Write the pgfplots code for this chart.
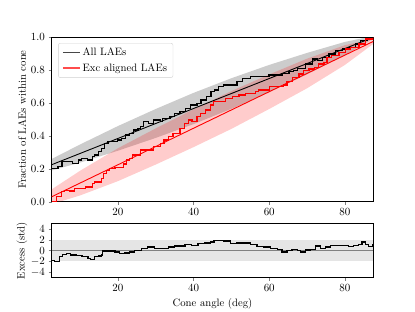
\documentclass[border=0pt]{standalone}
\usepackage{pgfplots}
\pgfplotsset{compat=1.18}
\usepgfplotslibrary{fillbetween}
\begin{document}
\begin{tikzpicture}
\pgfplotsset{
  every axis/.append style={
    scale only axis, width=321.6pt,
    xmin=2.5, xmax=87.5,
    axis line style={line width=0.7pt},
    tick pos=left, tick align=outside,
    major tick length=3.2pt,
    xtick={20,40,60,80},
    tick label style={font=\fontsize{10.7}{12.8}\selectfont},
    label style={font=\fontsize{10.7}{12.8}\selectfont},
  }
}
% ---------------- top panel
\begin{axis}[
  at={(51.7pt,110.3pt)}, anchor=south west,
  height=164.4pt,
  ymin=0, ymax=1,
  ytick={0,0.2,0.4,0.6,0.8,1.0},
  yticklabel style={/pgf/number format/.cd, fixed, fixed zerofill, precision=1},
  ylabel={Fraction of LAEs within cone},
  ylabel style={at={(axis description cs:-0.0924,0.5)}, anchor=center},
  legend style={at={(0.02,0.965)}, anchor=north west, draw=black!18,
    fill=white, rounded corners=2pt, font=\fontsize{10.7}{12.8}\selectfont,
    inner xsep=4pt, inner ysep=3pt, row sep=2pt},
  legend cell align=left,
]
% black band
\addplot[name path=bu, draw=none, forget plot] coordinates {
(2.5,0.260) (10,0.348) (20,0.460) (30,0.564) (40,0.662) (50,0.751) (60,0.832) (70,0.905) (80,0.972) (87.5,1.008)};
\addplot[name path=bl, draw=none, forget plot] coordinates {
(2.5,0.190) (10,0.238) (20,0.310) (30,0.388) (40,0.472) (50,0.565) (60,0.666) (70,0.775) (80,0.892) (87.5,0.992)};
\addplot[fill=black, fill opacity=0.2, draw=none, forget plot] fill between[of=bu and bl];
% red band
\addplot[name path=ru, draw=none, forget plot] coordinates {
(2.5,0.075) (10,0.188) (20,0.325) (30,0.446) (40,0.562) (50,0.673) (60,0.774) (70,0.870) (80,0.952) (87.5,0.990)};
\addplot[name path=rl, draw=none, forget plot] coordinates {
(2.5,-0.015) (10,0.038) (20,0.125) (30,0.226) (40,0.332) (50,0.443) (60,0.564) (70,0.690) (80,0.832) (87.5,0.960)};
\addplot[fill=red, fill opacity=0.2, draw=none, forget plot] fill between[of=ru and rl];

% expected lines (carry the legend)
\addplot[black, line width=0.9pt, legend image post style={black!72, line width=1.3pt}] coordinates {(2.5,0.225) (87.5,1.0)};
\addlegendentry{All LAEs}
\addplot[red, line width=0.9pt, legend image post style={red!70, line width=1.3pt}] coordinates {(2.5,0.030) (87.5,0.975)};
\addlegendentry{Exc aligned LAEs}

% all LAEs step
\addplot[black, line width=1.3pt, const plot, forget plot] coordinates {
(2.5,0.203) (4.2,0.213) (5.2,0.243) (8.0,0.233) (9.5,0.254) (10.3,0.264) (12.0,0.254)
(13.2,0.274) (13.9,0.284) (14.8,0.304) (15.6,0.325) (16.5,0.355) (17.4,0.365) (19.8,0.375)
(21.0,0.385) (22.0,0.405) (23.1,0.416) (24.2,0.436) (25.3,0.446) (25.9,0.456) (26.7,0.487)
(28.0,0.477) (29.4,0.497) (31.2,0.487) (31.8,0.507) (33.8,0.517) (35.0,0.538) (36.4,0.547)
(37.8,0.568) (39.1,0.588) (40.9,0.598) (42.0,0.619) (43.5,0.639) (44.6,0.669) (45.6,0.680)
(46.6,0.700) (48.0,0.710) (51.5,0.730) (53.0,0.750) (55.0,0.760) (59.9,0.770) (63.4,0.780)
(65.2,0.790) (66.5,0.800) (67.5,0.810) (69.6,0.838) (71.4,0.868) (72.8,0.858) (74.0,0.878)
(75.8,0.898) (77.5,0.919) (79.3,0.929) (81.1,0.939) (82.8,0.959) (84.2,0.979) (85.9,0.990)
(87.2,1.0) (87.5,1.0)};
% aligned step
\addplot[red, line width=1.3pt, const plot, forget plot] coordinates {
(2.5,0.0) (3.7,0.03) (5.0,0.06) (5.9,0.07) (7.2,0.065) (8.5,0.08) (11.5,0.09) (13.2,0.11)
(13.9,0.12) (15.6,0.14) (16.2,0.17) (17.0,0.19) (17.8,0.20) (19.2,0.21) (21.4,0.23)
(22.3,0.254) (23.1,0.264) (23.8,0.284) (25.9,0.314) (29.4,0.335) (31.2,0.355) (32.2,0.375)
(33.3,0.395) (34.6,0.416) (36.4,0.446) (37.6,0.477) (38.6,0.497) (39.6,0.487) (40.9,0.517)
(41.8,0.538) (43.1,0.558) (44.4,0.588) (45.3,0.608) (48.4,0.629) (50.2,0.639) (52.0,0.649)
(53.7,0.659) (56.4,0.669) (57.2,0.680) (60.0,0.700) (63.8,0.710) (64.7,0.730) (66.1,0.757)
(67.9,0.777) (69.0,0.797) (70.5,0.807) (72.0,0.818) (73.1,0.838) (74.5,0.848) (75.3,0.878)
(76.5,0.888) (78.4,0.909) (80.2,0.929) (81.5,0.939) (83.7,0.959) (85.5,0.990) (87.5,1.0)};
\end{axis}
% ---------------- bottom panel
\begin{axis}[
  at={(51.7pt,34.3pt)}, anchor=south west,
  height=54.4pt,
  ymin=-5, ymax=5,
  ytick={-4,-2,0,2,4},
  ylabel={Excess (std)},
  ylabel style={at={(axis description cs:-0.0924,0.5)}, anchor=center},
  xlabel={Cone angle (deg)},
  xlabel style={at={(axis description cs:0.5,-0.483)}, anchor=center},
]
\addplot[name path=eu, draw=none] coordinates {(2.5,2) (87.5,2)};
\addplot[name path=el, draw=none] coordinates {(2.5,-2) (87.5,-2)};
\addplot[fill=black, fill opacity=0.1, draw=none] fill between[of=eu and el];
\addplot[black!50, line width=0.9pt] coordinates {(2.5,0) (87.5,0)};
\addplot[black, line width=1.3pt, const plot] coordinates {
(2.5,-1.9) (3.3,-2.07) (4.6,-1.16) (5.3,-0.73) (6.4,-0.55) (7.5,-0.85) (9.0,-0.9)
(10.5,-1.15) (12.1,-1.45) (12.8,-1.6) (13.9,-1.15) (15.0,-1.0) (15.6,-0.85) (16.0,-0.07)
(19.2,-0.25) (20.5,-0.55) (21.8,-0.45) (23.1,-0.25) (24.4,0.0) (26.2,0.36) (27.9,0.65)
(29.7,0.36) (31.5,0.36) (33.3,0.65) (35.0,0.85) (37.7,1.15) (39.5,0.95) (41.2,1.25)
(43.0,1.4) (44.4,1.56) (45.4,1.87) (47.9,1.75) (49.7,1.27) (51.5,1.4) (55.0,1.15)
(56.8,0.78) (58.5,0.65) (60.3,0.36) (62.1,0.2) (63.4,-0.25) (64.7,0.0) (66.0,0.2)
(67.4,0.0) (68.2,-0.3) (69.6,0.1) (70.9,0.2) (72.2,0.8) (73.5,0.36) (74.8,0.65)
(76.2,0.95) (81.0,0.78) (82.3,0.95) (83.6,1.15) (84.5,1.55) (85.4,1.15) (86.3,0.78)
(87.2,1.0) (87.5,1.0)};
\end{axis}
\pgfresetboundingbox
\path[use as bounding box] (0,0) rectangle (415pt,312pt);
\end{tikzpicture}
\end{document}
